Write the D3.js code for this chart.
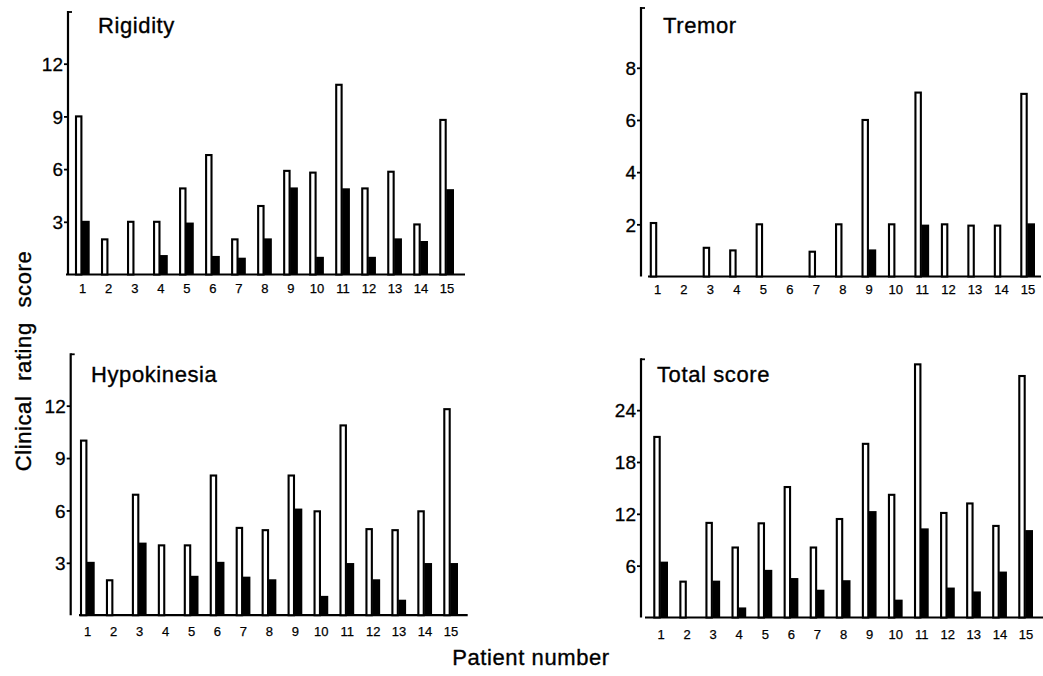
<!DOCTYPE html>
<html><head><meta charset="utf-8">
<script src="https://cdn.jsdelivr.net/npm/d3@7"></script>
<style>
body{margin:0;background:#fff;}
svg{display:block;}
text{font-family:"Liberation Sans",Arial,Helvetica,sans-serif;fill:#000;}
</style></head><body>
<svg id="chart" width="1043" height="676"></svg>
<script>
const patients = [1,2,3,4,5,6,7,8,9,10,11,12,13,14,15];

const rigidityBefore = [9, 2, 3, 3, 4.9, 6.8, 2, 3.9, 5.9, 5.8, 10.8, 4.9, 5.85, 2.85, 8.8];
const rigidityAfter  = [3, 0, 0, 1.05, 2.9, 1, 0.9, 2, 4.9, 0.95, 4.85, 0.95, 2, 1.85, 4.8];

const tremorBefore = [2.05, 0, 1.1, 1, 2, 0, 0.95, 2, 6, 2, 7.05, 2, 1.95, 1.95, 7];
const tremorAfter  = [0, 0, 0, 0, 0, 0, 0, 0, 1, 0, 1.95, 0, 0, 0, 2];

const hypokinesiaBefore = [10, 2, 6.9, 4, 4, 8, 5, 4.87, 8, 5.95, 10.87, 4.93, 4.87, 5.95, 11.8];
const hypokinesiaAfter  = [3, 0, 4.1, 0, 2.2, 3, 2.15, 2, 6.05, 1.05, 2.93, 2, 0.83, 2.93, 2.93];

const totalBefore = [20.9, 4.15, 10.95, 8.1, 10.9, 15.1, 8.1, 11.4, 20.1, 14.2, 29.3, 12.1, 13.2, 10.6, 27.95];
const totalAfter  = [6.35, 0, 4.15, 1.05, 5.4, 4.45, 3.1, 4.2, 12.2, 1.95, 10.2, 3.35, 2.9, 5.2, 10.0];

const rigidityTicks = [3, 6, 9, 12];
const tremorTicks = [2, 4, 6, 8];
const hypokinesiaTicks = [3, 6, 9, 12];
const totalTicks = [6, 12, 18, 24];

const titles = ["Rigidity", "Tremor", "Hypokinesia", "Total score"];
const yLabel = "Clinical rating score";
const xLabel = "Patient number";

const svg = d3.select("#chart");

const panels = [
  {title: titles[0], before: rigidityBefore, after: rigidityAfter, ticks: rigidityTicks, max: 15,
   ax: 68, top: 11, base: 274.5, bx0: 66, bx1: 465, first: 82.7, last: 447, tx: 98, ty: 33, lblOff: 18},
  {title: titles[1], before: tremorBefore, after: tremorAfter, ticks: tremorTicks, max: 10.33,
   ax: 641, top: 7, base: 276.5, bx0: 648, bx1: 1041, first: 657.5, last: 1028, tx: 663, ty: 33, lblOff: 17},
  {title: titles[2], before: hypokinesiaBefore, after: hypokinesiaAfter, ticks: hypokinesiaTicks, max: 15,
   ax: 70.7, top: 353.3, base: 615.2, bx0: 79, bx1: 467.7, first: 87.7, last: 451, tx: 91, ty: 382, lblOff: 21},
  {title: titles[3], before: totalBefore, after: totalAfter, ticks: totalTicks, max: 30,
   ax: 641, top: 358.3, base: 617.5, bx0: 645, bx1: 1043, first: 661, last: 1026, tx: 657, ty: 382, lblOff: 21}
];

panels.forEach(p => {
  const g = svg.append("g");
  const y = d3.scaleLinear().domain([0, p.max]).range([p.base, p.top]);
  const step = (p.last - p.first) / (patients.length - 1);
  const x = d3.scaleBand().domain(patients)
    .range([p.first - step / 2, p.last + step / 2]).padding(0);
  const cx = d => x(d) + x.bandwidth() / 2;

  // y axis
  const yAxis = d3.axisLeft(y).tickValues(p.ticks).tickSize(4).tickPadding(1)
    .tickFormat(d3.format("d"));
  const ya = g.append("g").attr("transform", `translate(${p.ax},0)`).call(yAxis);
  ya.select(".domain").remove();
  ya.selectAll(".tick line").attr("stroke", "#000").attr("stroke-width", 1.8);
  ya.selectAll(".tick text").style("font-size", "19px").attr("dy", "0.36em")
    .style("stroke", "#000").style("stroke-width", "0.3px");
  g.append("line").attr("x1", p.ax).attr("x2", p.ax).attr("y1", p.top).attr("y2", p.base)
    .attr("stroke", "#000").attr("stroke-width", 2.2);
  g.append("line").attr("x1", p.ax).attr("x2", p.ax + 4).attr("y1", p.top + 1).attr("y2", p.top + 1)
    .attr("stroke", "#000").attr("stroke-width", 1.8);

  // baseline
  g.append("line").attr("x1", p.bx0).attr("x2", p.bx1).attr("y1", p.base).attr("y2", p.base)
    .attr("stroke", "#000").attr("stroke-width", 2.2);

  // before bars (open)
  g.selectAll("rect.before").data(patients.map((d, i) => ({d, v: p.before[i]})).filter(o => o.v > 0))
    .join("rect").attr("class", "before")
    .attr("x", o => cx(o.d) - 6.7)
    .attr("width", 5.4)
    .attr("y", o => y(o.v))
    .attr("height", o => p.base - y(o.v))
    .attr("fill", "#fff").attr("stroke", "#000").attr("stroke-width", 2.1);

  // after bars (filled)
  g.selectAll("rect.after").data(patients.map((d, i) => ({d, v: p.after[i]})).filter(o => o.v > 0))
    .join("rect").attr("class", "after")
    .attr("x", o => cx(o.d) - 0.8)
    .attr("width", 7.8)
    .attr("y", o => y(o.v) - 1)
    .attr("height", o => p.base - y(o.v) + 1)
    .attr("fill", "#000");

  // x labels
  g.selectAll("text.xl").data(patients).join("text").attr("class", "xl")
    .attr("x", d => cx(d)).attr("y", p.base + p.lblOff)
    .attr("text-anchor", "middle").style("font-size", "13px")
    .style("stroke", "#000").style("stroke-width", "0.25px")
    .text(d => d);

  // title
  g.append("text").attr("x", p.tx).attr("y", p.ty)
    .style("font-size", "22px").style("letter-spacing", "0.6px")
    .style("stroke", "#000").style("stroke-width", "0.35px")
    .text(p.title);
});

svg.append("text")
  .attr("transform", "translate(31,361) rotate(-90)")
  .attr("text-anchor", "middle")
  .style("font-size", "22px").style("letter-spacing", "0.6px").style("word-spacing", "8px")
  .style("stroke", "#000").style("stroke-width", "0.35px")
  .text(yLabel);

svg.append("text")
  .attr("x", 531).attr("y", 665)
  .attr("text-anchor", "middle")
  .style("font-size", "22px").style("letter-spacing", "0.6px")
  .style("stroke", "#000").style("stroke-width", "0.35px")
  .text(xLabel);
</script>
</body></html>
